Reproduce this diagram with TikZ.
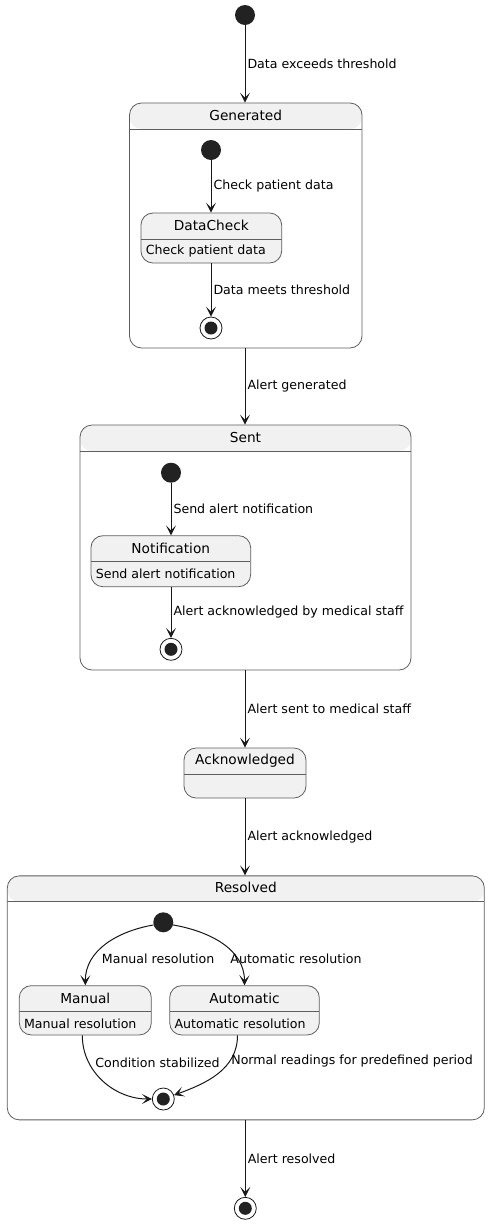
\documentclass[tikz,border=0pt]{standalone}
\usepackage{fontspec}
\setmainfont{DejaVu Sans}
\usetikzlibrary{arrows.meta}
\definecolor{boxfill}{HTML}{F1F1F1}
\definecolor{boxline}{HTML}{5E5E5E}
\definecolor{ink}{HTML}{181818}
\definecolor{dot}{HTML}{222222}
\begin{document}
\begin{tikzpicture}[x=1pt,y=-1pt,
 lbl/.style={font=\fontsize{12.6}{15}\selectfont, text=black, inner sep=2pt},
 ttl/.style={font=\fontsize{13.7}{16}\selectfont, text=black, inner sep=0pt},
 desc/.style={font=\fontsize{12.6}{15}\selectfont, text=black, inner sep=0pt},
 arr/.style={draw=ink, line width=1pt, -{Stealth[length=10pt,width=10pt,inset=5pt]}},
 startst/.style={circle, fill=dot, minimum size=20pt, inner sep=0pt},
 finalst/.style={circle, draw=ink, line width=0.8pt, fill=white, minimum size=22pt, inner sep=0pt,
   path picture={\fill[dot] (path picture bounding box.center) circle (6.5pt);}},
 comp/.style={draw=boxline, line width=0.8pt, fill=white, rounded corners=12pt, inner sep=0pt,
   path picture={\fill[boxfill] (path picture bounding box.north west) rectangle ([yshift=-26pt]path picture bounding box.north east);
     \draw[boxline,line width=0.8pt] ([yshift=-26pt]path picture bounding box.north west) -- ([yshift=-26pt]path picture bounding box.north east);}},
 simple/.style={draw=boxline, line width=0.8pt, fill=boxfill, rounded corners=12pt, inner sep=0pt, minimum height=50pt,
   path picture={\draw[boxline,line width=0.8pt] ([yshift=-26pt]path picture bounding box.north west) -- ([yshift=-26pt]path picture bounding box.north east);}},
]
\useasboundingbox (0,0) rectangle (490,1224);

% top start
\node[startst] (s0) at (245,15) {};

% Generated
\node[comp, minimum width=232.5pt, minimum height=245pt] (gen) at (245.75,225.5) {};
\node[ttl] (genT) at ([yshift=-13pt]gen.north) {Generated};
\node[startst] (g0) at (211,150) {};
\node[simple, minimum width=140.7pt] (dc) at (211.3,238) {};
\node[ttl] (dcT) at ([yshift=-13pt]dc.north) {DataCheck};
\node[desc, anchor=west] (dcD) at ([xshift=5pt,yshift=-13pt]dc.west) {Check patient data};
\node[finalst] (gF) at (211,328) {};

% Sent
\node[comp, minimum width=331pt, minimum height=245pt] (sent) at (245.5,547.5) {};
\node[ttl] (sentT) at ([yshift=-13pt]sent.north) {Sent};
\node[startst] (n0) at (171,472.7) {};
\node[simple, minimum width=159.7pt, minimum height=51pt] (nt) at (170.8,561.2) {};
\node[ttl] (ntT) at ([yshift=-13pt]nt.north) {Notification};
\node[desc, anchor=west] (ntD) at ([xshift=5pt,yshift=-13pt]nt.west) {Send alert notification};
\node[finalst] (nF) at (171,649.3) {};

% Acknowledged
\node[simple, minimum width=122pt] (ack) at (245,773) {};
\node[ttl] (ackT) at ([yshift=-13pt]ack.north) {Acknowledged};

% Resolved
\node[comp, minimum width=477pt, minimum height=244pt] (res) at (245.8,997.85) {};
\node[ttl] (resT) at ([yshift=-12pt]res.north) {Resolved};
\node[startst] (r0) at (163.3,922.3) {};
\node[simple, minimum width=132pt, minimum height=49.3pt] (man) at (85.3,1010.3) {};
\node[ttl] (manT) at ([yshift=-13pt]man.north) {Manual};
\node[desc, anchor=west] (manD) at ([xshift=5pt,yshift=-13pt]man.west) {Manual resolution};
\node[simple, minimum width=149.6pt, minimum height=49.3pt] (aut) at (244.5,1010.3) {};
\node[ttl] (autT) at ([yshift=-13pt]aut.north) {Automatic};
\node[desc, anchor=west] (autD) at ([xshift=5pt,yshift=-13pt]aut.west) {Automatic resolution};
\node[finalst] (rF) at (163.3,1099) {};

% end
\node[finalst] (fin) at (245.3,1208.3) {};

% connectors
\draw[arr] (s0) -- (s0 |- gen.north) node[lbl, midway, anchor=west] (l1) {Data exceeds threshold};
\draw[arr] (g0) -- (g0 |- dc.north) node[lbl, midway, anchor=west] (l2) {Check patient data};
\draw[arr] (dc.south -| gF) -- (gF) node[lbl, midway, anchor=west] (l3) {Data meets threshold};
\draw[arr] (gen.south -| s0) -- (sent.north -| s0) node[lbl, midway, anchor=west] (l4) {Alert generated};
\draw[arr] (n0) -- (n0 |- nt.north) node[lbl, midway, anchor=west] (l5) {Send alert notification};
\draw[arr] (nt.south -| nF) -- (nF) node[lbl, midway, anchor=west] (l6) {Alert acknowledged by medical staff};
\draw[arr] (sent.south -| ack) -- (ack.north) node[lbl, midway, anchor=west] (l7) {Alert sent to medical staff};
\draw[arr] (ack.south) -- (res.north -| ack) node[lbl, midway, anchor=west] (l8) {Alert acknowledged};
\draw[arr] (r0.195) to[out=190,in=90] node[lbl, pos=0.72, anchor=west, xshift=7pt] (l9) {Manual resolution} (man.north);
\draw[arr] (r0.-15) to[out=-10,in=90] node[lbl, pos=0.72, anchor=west, xshift=-9pt] (l10) {Automatic resolution} (aut.north);
\draw[arr] ([xshift=-3pt]man.south) to[out=-90,in=180] node[lbl, pos=0.27, anchor=west, xshift=4pt] (l11) {Condition stabilized} (rF.west);
\draw[arr] ([xshift=-7pt]aut.south) to[out=-90,in=20] node[lbl, pos=0.3, anchor=west, xshift=-1pt] (l12) {Normal readings for predefined period} (rF.20);
\draw[arr] (res.south -| fin) -- (fin) node[lbl, midway, anchor=west] (l13) {Alert resolved};
\end{tikzpicture}
\end{document}
